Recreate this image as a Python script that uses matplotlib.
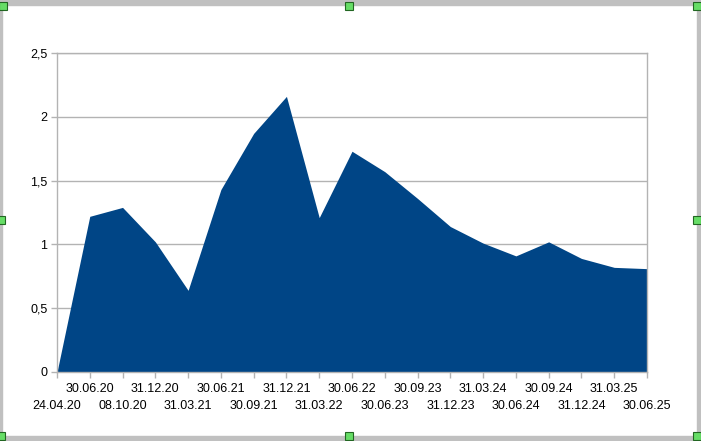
import matplotlib.pyplot as plt
from matplotlib.patches import Rectangle

# Daten (Stichtage und Werte)
dates = ['24.04.20', '30.06.20', '08.10.20', '31.12.20', '31.03.21', '30.06.21',
         '30.09.21', '31.12.21', '31.03.22', '30.06.22', '30.06.23', '30.09.23',
         '31.12.23', '31.03.24', '30.06.24', '30.09.24', '31.12.24', '31.03.25',
         '30.06.25']
values = [0.0, 1.22, 1.29, 1.02, 0.64, 1.43, 1.87, 2.16, 1.21, 1.73, 1.57,
          1.36, 1.14, 1.01, 0.91, 1.02, 0.89, 0.82, 0.81]
y_ticks = [0, 0.5, 1, 1.5, 2, 2.5]
y_labels = ['0', '0,5', '1', '1,5', '2', '2,5']

plt.rcParams['font.family'] = ['Liberation Sans', 'DejaVu Sans']
plt.rcParams['font.size'] = 9

fig = plt.figure(figsize=(7.01, 4.41), dpi=100)
ax = fig.add_axes([57 / 701, 1 - 372 / 441, 590 / 701, 319 / 441])

x = list(range(len(dates)))
ax.fill_between(x, values, 0, color='#004586', linewidth=0, zorder=2)

ax.set_xlim(0, len(dates) - 1)
ax.set_ylim(0, 2.5)
ax.set_yticks(y_ticks)
ax.set_yticklabels(y_labels)
ax.yaxis.grid(True, color='#b3b3b3', linewidth=1)
ax.set_axisbelow(True)

# Beschriftung versetzt in zwei Zeilen
ax.set_xticks(x[1::2])
ax.set_xticklabels(dates[1::2])
ax.set_xticks(x[0::2], minor=True)
ax.set_xticklabels(dates[0::2], minor=True)
ax.tick_params(axis='x', which='both', length=4, color='#b3b3b3', width=1)
ax.tick_params(axis='x', which='major', pad=4)
ax.tick_params(axis='x', which='minor', pad=16.5)
ax.tick_params(axis='y', length=4, color='#b3b3b3', width=1, pad=3)

for s in ax.spines.values():
    s.set_color('#b3b3b3')
    s.set_linewidth(1)

# Rahmen mit Markierungspunkten
gray = '#c0c0c0'
fig.patches.append(Rectangle((0, 1 - 5 / 441), 1, 5 / 441, transform=fig.transFigure,
                             color=gray, zorder=0))
fig.patches.append(Rectangle((0, 0), 1, 5 / 441, transform=fig.transFigure,
                             color=gray, zorder=0))
fig.patches.append(Rectangle((0, 0), 1.5 / 701, 1, transform=fig.transFigure,
                             color=gray, zorder=0))
fig.patches.append(Rectangle((1 - 4 / 701, 0), 4 / 701, 1, transform=fig.transFigure,
                             color=gray, zorder=0))
for hx, hy in [(3, 6), (349, 6), (697, 6), (1, 220), (697, 220),
               (1, 436), (349, 436), (697, 436)]:
    fig.patches.append(Rectangle(((hx - 4) / 701, 1 - (hy + 4) / 441), 8 / 701, 8 / 441,
                                 transform=fig.transFigure, facecolor='#66dd66',
                                 edgecolor='#226622', linewidth=0.8, zorder=5))

fig.savefig('out.png', dpi=100)
